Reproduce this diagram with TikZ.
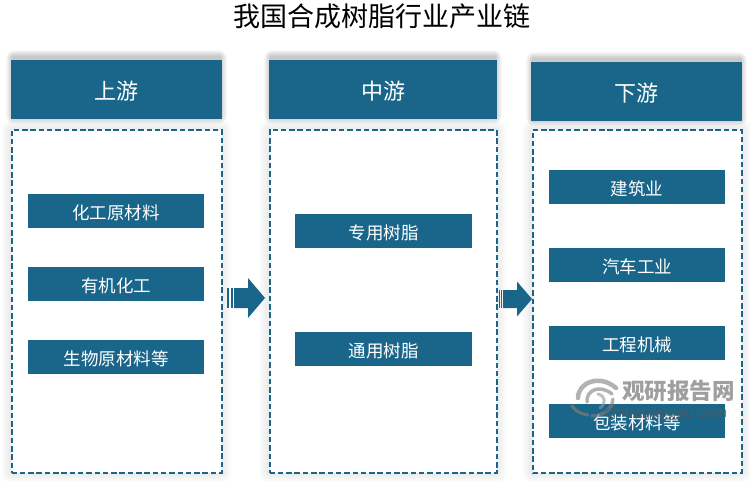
\documentclass[tikz,border=0pt]{standalone}
\usepackage{fontspec}
\setmainfont{Noto Sans CJK SC}
\newfontfamily\wmfont{Liberation Sans}
\definecolor{teal1}{HTML}{19668A}
\newcommand{\softshadow}[7]{%
  \foreach \s in {1,...,#6}{
    \fill[black,opacity=#5,rounded corners=\s*1pt] ({#1-\s*#7},{#2-\s*#7}) rectangle ({#3+\s*#7},{#4+\s*#7});
  }}
\newcommand{\dn}[1]{\raisebox{-2bp}[.88em][.12em]{#1}}
% start of shaft, head base, tip, centre y, half shaft, half head
\newcommand{\blockarr}[6]{%
  \fill[teal1] (#1,{#4-#5}) -- (#2,{#4-#5}) -- (#2,{#4-#6}) -- (#3,#4) -- (#2,{#4+#6}) -- (#2,{#4+#5}) -- (#1,{#4+#5}) -- cycle;
}
\tikzset{
  x=1bp,y=-1bp,
  headbox/.style={fill=teal1,draw=none,text=white,minimum height=59bp,inner sep=0pt,outer sep=0pt,font=\fontsize{22bp}{24bp}\selectfont,anchor=north west},
  framebox/.style={draw=teal1,line width=2bp,dash pattern=on 5.5bp off 2.8bp,fill=white,inner sep=0pt,outer sep=0pt,anchor=north west},
  itembox/.style={fill=teal1,text=white,minimum width=176bp,minimum height=34bp,inner sep=0pt,outer sep=0pt,font=\fontsize{17.5bp}{20bp}\selectfont,anchor=north west},
  barmark/.style={fill=teal1,draw=none,minimum width=2bp,minimum height=20bp,inner sep=0pt,outer sep=0pt},
}
\begin{document}
\begin{tikzpicture}
\useasboundingbox (0,0) rectangle (750,481);
\fill[white] (0,0) rectangle (750,481);
% soft shadows
\softshadow{11}{130}{222}{473}{0.009}{10}{1.0}
\softshadow{269}{130}{497}{473}{0.009}{10}{1.0}
\softshadow{532}{130}{742}{473}{0.009}{10}{1.0}
\softshadow{13}{57}{220}{117}{0.028}{8}{0.85}
\softshadow{271}{57}{495}{117}{0.028}{8}{0.85}
\softshadow{533}{59}{740}{119}{0.028}{8}{0.85}
% title
\node[font=\fontsize{27bp}{29bp}\selectfont,text=black] (title) at (382,16) {我国合成树脂行业产业链};
% headers
\node[headbox,minimum width=211bp] (h1) at (11,60) {\dn{上游}};
\node[headbox,minimum width=228bp] (h2) at (269,60) {\dn{中游}};
\node[headbox,minimum width=211bp] (h3) at (531,62) {\dn{下游}};
% frames
\node[framebox,minimum width=210bp,minimum height=343bp] (f1) at (11.5,130) {};
\node[framebox,minimum width=227bp,minimum height=343bp] (f2) at (269.5,130) {};
\node[framebox,minimum width=209bp,minimum height=343bp] (f3) at (532.5,130) {};
% items
\node[itembox] (a1) at (28,194) {\dn{化工原材料}};
\node[itembox] (a2) at (28,267) {\dn{有机化工}};
\node[itembox] (a3) at (28,340) {\dn{生物原材料等}};
\node[itembox,minimum width=177bp] (b1) at (295,214) {\dn{专用树脂}};
\node[itembox,minimum width=177bp] (b2) at (295,332) {\dn{通用树脂}};
\node[itembox] (c1) at (549,170) {\dn{建筑业}};
\node[itembox] (c2) at (549,248) {\dn{汽车工业}};
\node[itembox] (c3) at (549,326) {\dn{工程机械}};
\node[itembox] (c4) at (549,404) {\dn{包装材料等}};
% arrows
\node[barmark] (m1) at (228,298) {};
\node[barmark] (m2) at (232,298) {};
\blockarr{234}{248}{265}{298}{10}{20}
\node[barmark,minimum width=1.2bp,minimum height=18bp] (m3) at (499.3,299) {};
\node[barmark,minimum width=1.2bp,minimum height=18bp] (m4) at (501.4,299) {};
\blockarr{503}{517}{532}{299}{9}{17.5}
% watermark
\begin{scope}[opacity=0.6,line cap=round]
\draw[gray,line width=4.5bp] (578,398) .. controls (578,382) and (600,374) .. (616,388);
\draw[gray,line width=3.5bp] (587,402) .. controls (586,390) and (600,384) .. (612,394);
\draw[gray!80,line width=3bp] (598,394) .. controls (606,396) and (606,404) .. (600,408);
\draw[gray,line width=3.5bp] (613,399) .. controls (612,410) and (602,416) .. (592,416);
\draw[brown!40!gray,line width=3bp] (572,406) .. controls (576,412) and (582,414) .. (588,415);
\end{scope}
\node[opacity=0.75,text=gray,font=\fontsize{22.5bp}{24bp}\selectfont\bfseries,inner sep=0pt] (wm1) at (678.5,391) {观研报告网};
\node[opacity=0.7,text=black!65,font=\wmfont\fontsize{15.5bp}{17bp}\selectfont,inner sep=0pt] (wm2) at (666,413) {chinabaogao.com};
\end{tikzpicture}
\end{document}
